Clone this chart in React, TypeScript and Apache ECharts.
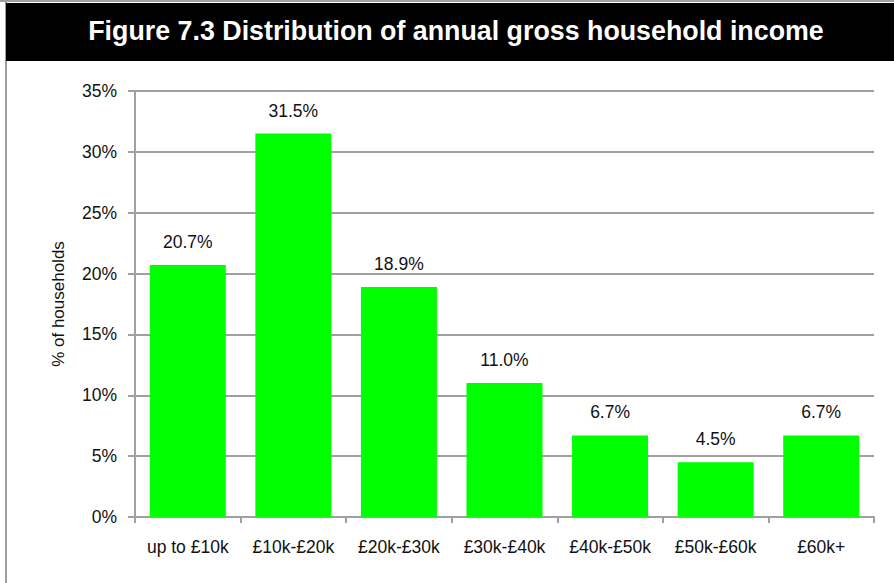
import React, { useEffect, useRef } from "react";
import * as echarts from "echarts";

const categories = ["up to £10k", "£10k-£20k", "£20k-£30k", "£30k-£40k", "£40k-£50k", "£50k-£60k", "£60k+"];
const shares = [20.7, 31.5, 18.9, 11.0, 6.7, 4.5, 6.7];
const titleText = "Figure 7.3 Distribution of annual gross household income";
const yAxisTitle = "% of households";

const FONT = "'Liberation Sans', Arial, sans-serif";
const GRID = "#a0a0a0";

export default function App() {
  const ref = useRef<HTMLDivElement>(null);
  useEffect(() => {
    if (!ref.current) return;
    const chart = echarts.init(ref.current, null, { renderer: "svg" });
    chart.setOption({
      animation: false,
      backgroundColor: "#ffffff",
      textStyle: { fontFamily: FONT },
      graphic: [
        { type: "rect", shape: { x: 0, y: 0, width: 894, height: 2 }, style: { fill: "#a0a0a0" }, silent: true },
        { type: "rect", shape: { x: 5, y: 2, width: 2, height: 581 }, style: { fill: "#a0a0a0" }, silent: true },
        { type: "rect", shape: { x: 6, y: 3, width: 888, height: 58 }, style: { fill: "#000000" }, silent: true },
        {
          type: "text",
          x: 456,
          y: 31,
          style: {
            text: titleText,
            fill: "#ffffff",
            font: `bold 26.8px ${FONT}`,
            align: "center",
            verticalAlign: "middle",
          },
          silent: true,
        },
      ],
      grid: { left: 135, right: 20, top: 91, bottom: 66, containLabel: false },
      xAxis: {
        type: "category",
        data: categories,
        boundaryGap: true,
        axisLine: { lineStyle: { color: GRID, width: 2 } },
        axisTick: { show: true, length: 6, lineStyle: { color: GRID, width: 2 } },
        axisLabel: { color: "#111", fontSize: 17.5, fontFamily: FONT, margin: 21, interval: 0 },
      },
      yAxis: {
        type: "value",
        min: 0,
        max: 35,
        interval: 5,
        name: yAxisTitle,
        nameLocation: "middle",
        nameRotate: 90,
        nameGap: 68,
        nameTextStyle: { color: "#111", fontSize: 17, fontFamily: FONT },
        axisLine: { show: true, lineStyle: { color: GRID, width: 2 } },
        axisTick: { show: true, length: 7, lineStyle: { color: GRID, width: 2 } },
        axisLabel: { color: "#111", fontSize: 17.5, fontFamily: FONT, margin: 18, formatter: "{value}%" },
        splitLine: { show: true, lineStyle: { color: GRID, width: 2 } },
      },
      series: [
        {
          type: "bar",
          data: shares,
          barWidth: "72%",
          itemStyle: { color: "#00ff00" },
          label: {
            show: true,
            position: "top",
            distance: 14,
            color: "#111",
            fontSize: 17.5,
            fontFamily: FONT,
            formatter: (p: any) => `${Number(p.value).toFixed(1)}%`,
          },
        },
      ],
    });
    return () => chart.dispose();
  }, []);
  return (
    <div
      ref={ref}
      style={{ position: "absolute", left: 0, top: 0, width: 894, height: 583 }}
    />
  );
}
